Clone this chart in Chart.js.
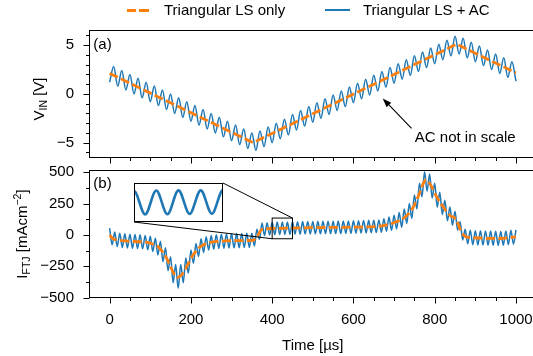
<!DOCTYPE html>
<html>
<head>
<meta charset="utf-8">
<script src="https://cdn.jsdelivr.net/npm/chart.js@4.4.1/dist/chart.umd.min.js"></script>
<style>
  html, body { margin: 0; padding: 0; background: #fff; overflow: hidden; }
  body { position: relative; width: 533px; height: 356px; font-family: "Liberation Sans", Arial, sans-serif; color: #000; }
  canvas { position: absolute; }
  .lab { position: absolute; font-size: 15px; line-height: 18px; white-space: nowrap; }
  .ytitle { position: absolute; font-size: 15px; line-height: 18px; white-space: nowrap; transform: translate(-50%, -50%) rotate(-90deg); }
  .ytitle sub { font-size: 10.5px; vertical-align: -3px; line-height: 0; }
  .ytitle sup { font-size: 10.5px; vertical-align: 6px; line-height: 0; }
  .key { position: absolute; }
</style>
</head>
<body>
<canvas id="topChart" width="545" height="175" style="left:0;top:0"></canvas>
<canvas id="bottomChart" width="545" height="196" style="left:0;top:160px"></canvas>
<canvas id="insetChart" width="90" height="39" style="background:#fff"></canvas>

<div class="key" style="left:127px;top:9px;width:22px;height:2.6px;background:repeating-linear-gradient(90deg,#ff7f0e 0 9px,transparent 9px 12.5px)"></div>
<div class="lab" style="left:164px;top:1px">Triangular LS only</div>
<div class="key" style="left:325px;top:9.3px;width:25px;height:2px;background:#1f77b4"></div>
<div class="lab" style="left:363px;top:1px">Triangular LS + AC</div>

<div class="ytitle" style="left:39px;top:99px">V<sub>IN</sub> [V]</div>
<div class="ytitle" style="left:22px;top:234px">I<sub>FTJ</sub> [mAcm<sup>−2</sup>]</div>

<script>
// (a) input voltage: triangular large signal (vertices) and LS + AC (extremes every 10 µs)
const vTriT = [0, 353, 854, 1000];
const vTriV = [2.1, -5.0, 5.1, 2.15];
const vAcStep = 10;
const vAc = [1.2, 2.8, 0.8, 2.4, 0.4, 2.0, 0.0, 1.6, -0.4, 1.2,
  -0.8, 0.8, -1.2, 0.4, -1.6, 0.0, -2.0, -0.4, -2.4, -0.8,
  -2.8, -1.2, -3.2, -1.6, -3.6, -2.0, -4.0, -2.4, -4.4, -2.8,
  -4.8, -3.2, -5.2, -3.6, -5.6, -4.0, -5.8, -3.8, -5.4, -3.4,
  -5.0, -3.0, -4.6, -2.6, -4.2, -2.1, -3.7, -1.7, -3.3, -1.3,
  -2.9, -0.9, -2.5, -0.5, -2.1, -0.1, -1.7, 0.3, -1.3, 0.7,
  -0.9, 1.1, -0.5, 1.5, -0.1, 1.9, 0.3, 2.3, 0.7, 2.7,
  1.1, 3.1, 1.5, 3.5, 1.9, 3.9, 2.3, 4.3, 2.7, 4.7,
  3.1, 5.1, 3.5, 5.5, 3.9, 5.9, 4.1, 5.7, 3.7, 5.3,
  3.3, 4.9, 2.9, 4.5, 2.5, 4.1, 2.1, 3.7, 1.7, 3.3, 1.3];

// (b) FTJ current: LS only response and LS + AC (extremes every 6.25 µs)
const iLsT = [0, 8, 25, 50, 80, 103, 123, 141, 156, 166, 176, 189, 205, 222, 242, 271, 312, 353, 365, 374,
  402, 493, 591, 665, 698, 722, 743, 759, 772, 778, 790, 805, 821, 837, 854, 862, 874, 895, 961, 1000];
const iLsV = [0, -29, -42, -50, -55, -68, -105, -190, -295, -340, -322, -256, -162, -96, -64, -50, -45, -42, -2, 43,
  52, 58, 62, 70, 96, 131, 198, 304, 411, 440, 398, 304, 224, 158, 118, 51, -10, -22, -28, -15];
const iAcStep = 6.25;
const iAc = [55, -78, 23, -92, 13, -99, 9, -103, 5, -106,
  3, -108, 1, -110, -4, -118, -11, -132, -26, -159,
  -49, -212, -101, -285, -173, -381, -236, -425, -236, -380,
  -184, -304, -119, -225, -68, -171, -31, -139, -14, -119,
  -4, -113, 2, -107, 6, -105, 8, -103, 9, -102,
  11, -101, 12, -100, 13, -99, 14, -87, 46, -35,
  95, -5, 97, -1, 101, 2, 103, 3, 104, 4,
  104, 5, 105, 6, 106, 6, 107, 7, 108, 8,
  108, 9, 109, 9, 109, 10, 110, 10, 110, 11,
  111, 11, 111, 12, 112, 12, 113, 14, 114, 15,
  116, 16, 117, 18, 118, 19, 120, 21, 130, 29,
  143, 37, 157, 48, 179, 62, 207, 92, 250, 131,
  319, 208, 413, 304, 505, 349, 487, 295, 413, 222,
  340, 163, 277, 114, 223, 78, 189, 39, 106, -40,
  45, -70, 38, -77, 34, -79, 33, -80, 32, -81,
  31, -82, 29, -83, 28, -81, 32, -77, 37, -73,
  41];

// tick labels
const xTicks = [0, 200, 400, 600, 800, 1000];
const vTicks = [-5, 0, 5];
const iTicks = [-500, -250, 0, 250, 500];

// zoomed window shown in the inset, and where the inset sits (axes fraction: x, y, w, h)
const insetX = [400, 450];
const insetY = [-30, 135];
const insetPos = [0.1, 0.59, 0.2, 0.305];

// annotation in panel (a)
const noteText = 'AC not in scale';
const noteHead = [672, -0.47];
const noteTail = [743, -3.54];
const noteAt = [751, -4.48];

const ORANGE = '#ff7f0e', BLUE = '#1f77b4';
const FONT = '"Liberation Sans", Arial, sans-serif';

Chart.defaults.font.family = FONT;
Chart.defaults.font.size = 15;
Chart.defaults.color = '#000';
Chart.defaults.animation = false;

function pts(xs, ys) { return ys.map((v, i) => ({ x: xs[i], y: v })); }
function onGrid(step, ys) { return ys.map((v, i) => ({ x: i * step, y: v })); }
const minus = v => String(v).replace('-', '\u2212');
const fixTicks = list => s => { s.ticks = list.map(v => ({ value: v })); };

const xMinor = [];
for (let t = 0; t <= 1000; t += 50) if (t % 200) xMinor.push(t);

// box around the axes + outward major/minor tick marks + panel tag
const frameTicks = {
  id: 'frameTicks',
  afterDatasetsDraw(chart, args, o) {
    const { ctx, chartArea: a } = chart;
    const L = Math.floor(a.left) + 0.5, R = Math.ceil(a.right) - 0.5;
    const T = Math.floor(a.top) + 0.5, B = Math.ceil(a.bottom) - 0.5;
    ctx.save();
    ctx.strokeStyle = '#000';
    ctx.lineWidth = 1;
    ctx.strokeRect(L, T, R - L, B - T);
    ctx.beginPath();
    const sx = chart.scales.x, sy = chart.scales.y;
    (o.xMajor || []).forEach(v => { const p = Math.round(sx.getPixelForValue(v)) + 0.5; ctx.moveTo(p, B); ctx.lineTo(p, B + 6); });
    (o.xMinor || []).forEach(v => { const p = Math.round(sx.getPixelForValue(v)) + 0.5; ctx.moveTo(p, B); ctx.lineTo(p, B + 3.5); });
    (o.yMajor || []).forEach(v => { const p = Math.round(sy.getPixelForValue(v)) + 0.5; ctx.moveTo(L, p); ctx.lineTo(L - 6, p); });
    (o.yMinor || []).forEach(v => { const p = Math.round(sy.getPixelForValue(v)) + 0.5; ctx.moveTo(L, p); ctx.lineTo(L - 3.5, p); });
    ctx.stroke();
    if (o.tag) {
      ctx.font = '15px ' + FONT;
      ctx.fillStyle = '#000';
      ctx.textBaseline = 'middle';
      ctx.fillText(o.tag, a.left + 4, a.top + 14);
    }
    ctx.restore();
  }
};

const notePlugin = {
  id: 'note',
  afterDatasetsDraw(chart) {
    const { ctx } = chart;
    const sx = chart.scales.x, sy = chart.scales.y;
    const hx = sx.getPixelForValue(noteHead[0]), hy = sy.getPixelForValue(noteHead[1]);
    const tx = sx.getPixelForValue(noteTail[0]), ty = sy.getPixelForValue(noteTail[1]);
    const ang = Math.atan2(hy - ty, hx - tx);
    const hl = 9, hw = 3.2;
    const c = Math.cos(ang), s = Math.sin(ang);
    ctx.save();
    ctx.strokeStyle = '#000';
    ctx.fillStyle = '#000';
    ctx.lineWidth = 1.1;
    ctx.beginPath();
    ctx.moveTo(tx, ty);
    ctx.lineTo(hx - c * hl, hy - s * hl);
    ctx.stroke();
    ctx.beginPath();
    ctx.moveTo(hx, hy);
    ctx.lineTo(hx - c * hl - s * hw, hy - s * hl + c * hw);
    ctx.lineTo(hx - c * hl + s * hw, hy - s * hl - c * hw);
    ctx.closePath();
    ctx.fill();
    ctx.font = '15px ' + FONT;
    ctx.textBaseline = 'middle';
    ctx.textAlign = 'left';
    ctx.fillText(noteText, sx.getPixelForValue(noteAt[0]), sy.getPixelForValue(noteAt[1]));
    ctx.restore();
  }
};

function insetBox(chart) {
  const a = chart.chartArea, w = a.right - a.left, h = a.bottom - a.top;
  return {
    left: Math.round(a.left + insetPos[0] * w),
    top: Math.round(a.bottom - (insetPos[1] + insetPos[3]) * h),
    width: Math.round(insetPos[2] * w),
    height: Math.round(insetPos[3] * h)
  };
}

// zoom rectangle + connector lines to the inset
const insetLinks = {
  id: 'insetLinks',
  afterDatasetsDraw(chart) {
    const { ctx } = chart;
    const sx = chart.scales.x, sy = chart.scales.y;
    const b = insetBox(chart);
    const x0 = sx.getPixelForValue(insetX[0]), x1 = sx.getPixelForValue(insetX[1]);
    const y0 = sy.getPixelForValue(insetY[0]), y1 = sy.getPixelForValue(insetY[1]);
    ctx.save();
    ctx.strokeStyle = '#000';
    ctx.lineWidth = 1;
    ctx.strokeRect(x0, y1, x1 - x0, y0 - y1);
    ctx.beginPath();
    ctx.moveTo(b.left + b.width, b.top);
    ctx.lineTo(x1, y1);
    ctx.moveTo(b.left, b.top + b.height);
    ctx.lineTo(x0, y0);
    ctx.stroke();
    ctx.restore();
  }
};

const noTooltip = { legend: { display: false }, tooltip: { enabled: false } };
// labels pushed off the axis with an invisible tick length (ticks.padding would also shrink the plot)
const hiddenGrid = gap => ({ display: false, drawTicks: true, tickLength: gap });

const topChart = new Chart(document.getElementById('topChart'), {
  type: 'line',
  data: {
    datasets: [
      { label: 'Triangular LS only', data: pts(vTriT, vTriV), borderColor: ORANGE, borderWidth: 2.8, borderDash: [9, 3.5], pointRadius: 0, tension: 0 },
      { label: 'Triangular LS + AC', data: onGrid(vAcStep, vAc), borderColor: BLUE, borderWidth: 1.5, pointRadius: 0, cubicInterpolationMode: 'monotone' }
    ]
  },
  options: {
    responsive: false,
    layout: { padding: { top: 30.5, bottom: 17.7, left: 0, right: 8.7 } },
    plugins: {
      ...noTooltip,
      frameTicks: { xMajor: xTicks, xMinor: xMinor, yMajor: vTicks, yMinor: [-6, -4, -3, -2, -1, 1, 2, 3, 4, 6], tag: '(a)' }
    },
    scales: {
      x: { type: 'linear', min: -50, max: 1050, display: false },
      y: {
        min: -6.5, max: 6.5,
        grid: hiddenGrid(15.3), border: { display: false },
        ticks: { padding: 0, callback: v => minus(v) },
        afterBuildTicks: fixTicks(vTicks),
        afterFit: s => { s.width = 89.3; }
      }
    }
  },
  plugins: [frameTicks, notePlugin]
});

const bottomChart = new Chart(document.getElementById('bottomChart'), {
  type: 'line',
  data: {
    datasets: [
      { data: pts(iLsT, iLsV), borderColor: ORANGE, borderWidth: 2.8, borderDash: [9, 3.5], pointRadius: 0, cubicInterpolationMode: 'monotone' },
      { data: onGrid(iAcStep, iAc), borderColor: BLUE, borderWidth: 1.5, pointRadius: 0, cubicInterpolationMode: 'monotone' }
    ]
  },
  options: {
    responsive: false,
    layout: { padding: { top: 10, bottom: 0, left: 0, right: 8.7 } },
    plugins: {
      ...noTooltip,
      frameTicks: { xMajor: xTicks, xMinor: xMinor, yMajor: iTicks, yMinor: [-375, -125, 125, 375], tag: '(b)' }
    },
    scales: {
      x: {
        type: 'linear', min: -50, max: 1050,
        grid: hiddenGrid(13.3), border: { display: false },
        ticks: { padding: 0, autoSkip: false, maxRotation: 0, callback: v => minus(v) },
        afterBuildTicks: fixTicks(xTicks),
        title: { display: true, text: 'Time [µs]', font: { size: 15 }, padding: { top: 0, bottom: 1 } },
        afterFit: s => { s.height = 58.3; }
      },
      y: {
        min: -500, max: 518,
        grid: hiddenGrid(15.3), border: { display: false },
        ticks: { padding: 0, callback: v => minus(v) },
        afterBuildTicks: fixTicks(iTicks),
        afterFit: s => { s.width = 89.3; }
      }
    }
  },
  plugins: [frameTicks, insetLinks]
});

// inset: same AC trace, zoomed to the marked window
const box = insetBox(bottomChart);
const insetCanvas = document.getElementById('insetChart');
insetCanvas.width = box.width;
insetCanvas.height = box.height;
insetCanvas.style.left = box.left + 'px';
insetCanvas.style.top = (160 + box.top) + 'px';

new Chart(insetCanvas, {
  type: 'line',
  data: {
    datasets: [
      { data: onGrid(iAcStep, iAc), borderColor: BLUE, borderWidth: 2.6, pointRadius: 0, cubicInterpolationMode: 'monotone' }
    ]
  },
  options: {
    responsive: false,
    layout: { padding: 0 },
    plugins: { ...noTooltip, frameTicks: {} },
    scales: {
      x: { type: 'linear', min: insetX[0], max: insetX[1], display: false },
      y: { min: insetY[0], max: insetY[1], display: false }
    }
  },
  plugins: [frameTicks]
});
</script>
</body>
</html>
